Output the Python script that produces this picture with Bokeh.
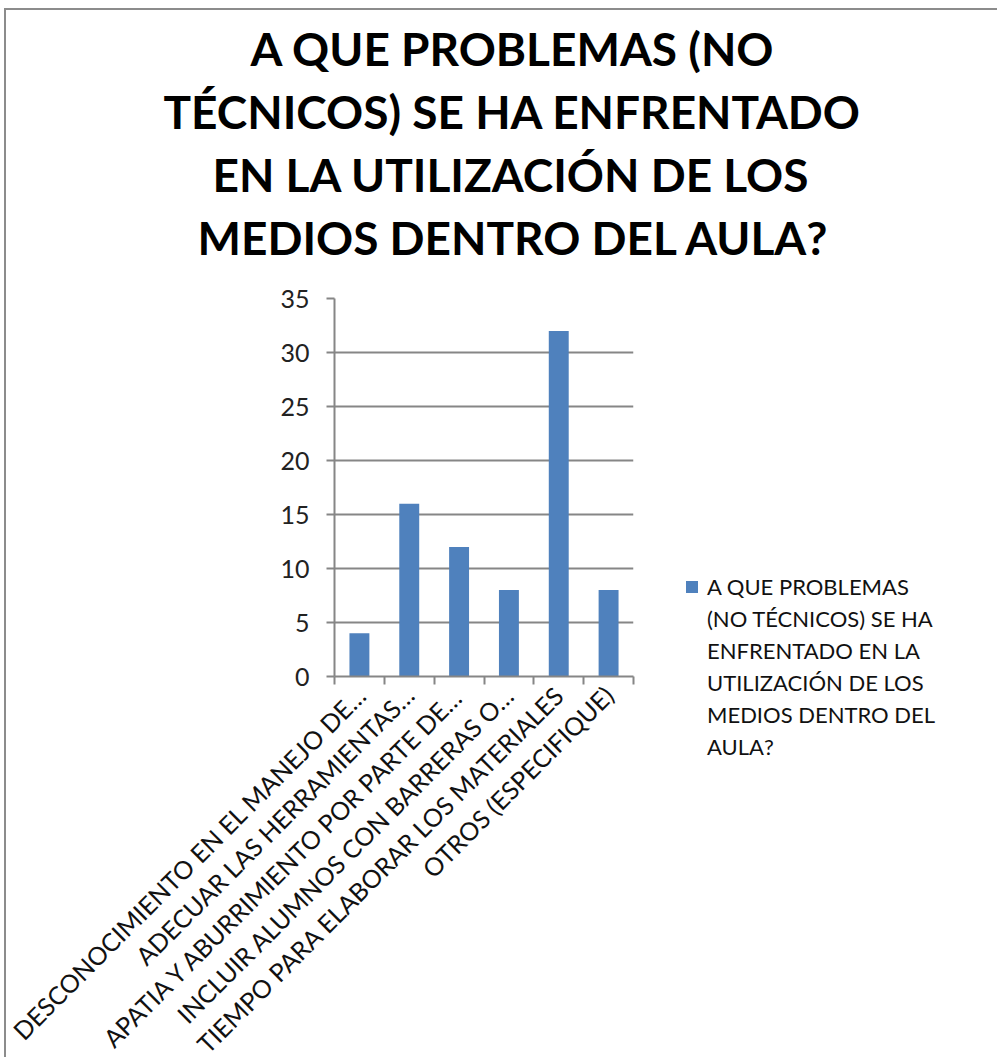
import math
from bokeh.plotting import figure
from bokeh.models import (Range1d, LinearAxis, FixedTicker, Title, Legend, LegendItem,
                          ColumnDataSource)
from bokeh.embed import file_html
from bokeh.resources import INLINE

# ---- data ----
categories = [
    "DESCONOCIMIENTO EN EL MANEJO DE…",
    "ADECUAR LAS HERRAMIENTAS…",
    "APATIA Y ABURRIMIENTO POR PARTE DE…",
    "INCLUIR ALUMNOS CON BARRERAS O…",
    "TIEMPO PARA ELABORAR LOS MATERIALES",
    "OTROS (ESPECIFIQUE)",
]
values = [4, 16, 12, 8, 32, 8]
y_ticks = [0, 5, 10, 15, 20, 25, 30, 35]
title_lines = [
    "A QUE PROBLEMAS (NO",
    "TÉCNICOS) SE HA ENFRENTADO",
    "EN LA UTILIZACIÓN DE LOS",
    "MEDIOS DENTRO DEL AULA?",
]
series_lines = [
    "A QUE PROBLEMAS",
    "(NO TÉCNICOS) SE HA",
    "ENFRENTADO EN LA",
    "UTILIZACIÓN DE LOS",
    "MEDIOS DENTRO DEL",
    "AULA?",
]

FONT = "Lato"
GRAY = "#868686"
BAR = "#4F81BD"

ML, MT = 328, 288
FW, FH = 299, 378
MR, MB = 360, 378

n = len(categories)
centers = [i + 0.5 for i in range(n)]
bounds = list(range(n + 1))

p = figure(x_range=Range1d(0, n), y_range=Range1d(0, 35), frame_width=FW, frame_height=FH,
           output_backend="svg", toolbar_location=None, x_axis_location=None,
           min_border_left=ML, min_border_top=MT, min_border_right=MR, min_border_bottom=MB)
p.styles = {"margin-left": "4px", "margin-top": "8px",
            "border-top": "2px solid #8c8c8c", "border-left": "2px solid #8c8c8c"}
p.outline_line_color = None
p.background_fill_color = "white"
p.border_fill_color = "white"

src = ColumnDataSource(dict(x=centers, val=values, cat=categories))
r = p.vbar(x="x", top="val", width=0.4, source=src, fill_color=BAR, line_color=None)

# y axis
ya = p.yaxis[0]
ya.ticker = FixedTicker(ticks=y_ticks)
ya.axis_line_color = GRAY
ya.axis_line_width = 2
ya.major_tick_line_color = GRAY
ya.major_tick_line_width = 2
ya.major_tick_out = 8
ya.major_tick_in = 0
ya.minor_tick_line_color = None
ya.major_label_text_font = FONT
ya.major_label_text_font_size = "25px"
ya.major_label_text_color = "#222222"
ya.major_label_standoff = 17
p.ygrid.ticker = FixedTicker(ticks=y_ticks)
p.ygrid.grid_line_color = GRAY
p.ygrid.grid_line_width = 2
p.xgrid.grid_line_color = None

# tick-only axis at category boundaries
ta = LinearAxis(ticker=FixedTicker(ticks=bounds),
                major_label_overrides={b: "" for b in bounds})
ta.axis_line_color = GRAY
ta.axis_line_width = 2
ta.major_tick_line_color = GRAY
ta.major_tick_line_width = 2
ta.major_tick_out = 8
ta.major_tick_in = 0
ta.minor_tick_line_color = None
ta.major_label_standoff = 0
p.add_layout(ta, "below")

# category label axis
ca = LinearAxis(ticker=FixedTicker(ticks=centers),
                major_label_overrides={c: lab for c, lab in zip(centers, categories)})
ca.axis_line_color = None
ca.major_tick_line_color = None
ca.minor_tick_line_color = None
ca.major_label_orientation = math.pi / 4
ca.major_label_text_font = FONT
ca.major_label_text_font_size = "25px"
ca.major_label_text_color = "#111111"
ca.major_label_standoff = 0
p.add_layout(ca, "below")

# spacer between title and plot area (invisible axis above; its hidden tick sets the gap)
sp = LinearAxis(ticker=FixedTicker(ticks=[n / 2]), major_label_overrides={n / 2: ""})
sp.axis_line_color = None
sp.major_tick_line_color = None
sp.minor_tick_line_color = None
sp.major_tick_out = 31
sp.major_tick_in = 0
sp.major_label_text_font_size = "1px"
sp.major_label_standoff = 0
p.add_layout(sp, "above")

# title: one line per Title, added from the plot outward, each centred on the chart
title_offsets = [-84, -171, -122, -137]
for line, off in reversed(list(zip(title_lines, title_offsets))):
    p.add_layout(Title(text=line, align="left", offset=off, standoff=6,
                       text_font=FONT, text_font_style="bold", text_font_size="46px",
                       text_color="black"), "above")

# legend: one entry, its name wrapped over several rows
items = [LegendItem(label=series_lines[0], renderers=[r])]
items += [LegendItem(label=s, renderers=[]) for s in series_lines[1:]]
legend = Legend(items=items, location=(51, -84), orientation="vertical",
                label_text_font=FONT, label_text_font_size="22px", label_text_color="#111111",
                label_height=28, spacing=4,
                glyph_width=15, glyph_height=15, label_standoff=8, padding=0, margin=0,
                border_line_color=None, background_fill_alpha=0)
p.add_layout(legend, "right")

open("out.html", "w").write(file_html(p, INLINE))
